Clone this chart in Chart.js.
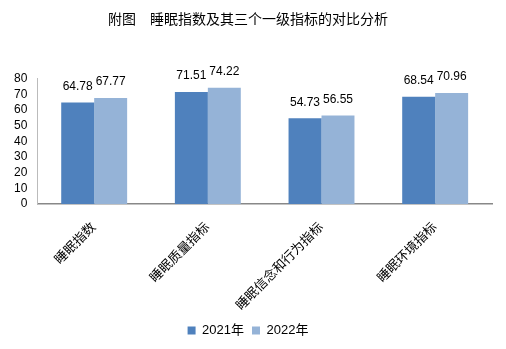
<!DOCTYPE html>
<html>
<head>
<meta charset="utf-8">
<script src="https://cdn.jsdelivr.net/npm/chart.js@4.4.0/dist/chart.umd.min.js"></script>
<style>
    html, body { margin: 0; padding: 0; background: #fff; }
    #wrap { width: 506px; height: 349px; }
</style>
</head>
<body>
<div id="wrap"><canvas id="grafico"></canvas></div>
<script>
const categorias = ['睡眠指数', '睡眠质量指标', '睡眠信念和行为指标', '睡眠环境指标'];
const valores2021 = [64.78, 71.51, 54.73, 68.54];
const valores2022 = [67.77, 74.22, 56.55, 70.96];
const series = ['2021年', '2022年'];
const ticksY = [0, 10, 20, 30, 40, 50, 60, 70, 80];

const fuente = "'DejaVu Sans', 'Noto Sans CJK SC', sans-serif";
const fuenteNum = "'Liberation Sans', 'Noto Sans CJK SC', sans-serif";

// etiquetas de valor encima de cada barra
const etiquetas = {
    id: 'etiquetas',
    afterDatasetsDraw(chart) {
        const ctx = chart.ctx;
        ctx.save();
        ctx.font = '12px ' + fuenteNum;
        ctx.fillStyle = '#000';
        ctx.textAlign = 'center';
        ctx.textBaseline = 'bottom';
        chart.data.datasets.forEach((ds, i) => {
            chart.getDatasetMeta(i).data.forEach((bar, j) => {
                ctx.fillText(ds.data[j].toFixed(2), bar.x, bar.y - 10);
            });
        });
        ctx.restore();
    }
};

new Chart(document.getElementById('grafico').getContext('2d'), {
    type: 'bar',
    data: {
        labels: categorias,
        datasets: [{
            label: series[0],
            data: valores2021,
            backgroundColor: '#4F81BD',
            categoryPercentage: 0.58,
            barPercentage: 1
        }, {
            label: series[1],
            data: valores2022,
            backgroundColor: '#95B3D7',
            categoryPercentage: 0.58,
            barPercentage: 1
        }]
    },
    options: {
        responsive: true,
        maintainAspectRatio: false,
        animation: false,
        layout: { padding: { left: 4, right: 14, top: 0, bottom: 2 } },
        plugins: {
            title: {
                display: true,
                text: '附图　睡眠指数及其三个一级指标的对比分析',
                color: '#000',
                font: { size: 14, family: fuente, weight: 'normal' },
                padding: { top: 12, bottom: 50 }
            },
            legend: {
                position: 'bottom',
                labels: {
                    boxWidth: 8,
                    boxHeight: 8,
                    color: '#000',
                    font: { size: 13, family: fuenteNum },
                    padding: 8
                }
            },
            tooltip: { enabled: false }
        },
        scales: {
            x: {
                grid: { display: false, drawTicks: false },
                border: { color: '#888', width: 1.5 },
                afterFit(axis) {
                    axis.height = 112;
                },
                ticks: {
                    maxRotation: 45,
                    minRotation: 45,
                    color: '#000',
                    padding: 16,
                    font: { size: 13, family: fuente }
                }
            },
            y: {
                min: ticksY[0],
                max: ticksY[ticksY.length - 1],
                afterBuildTicks(axis) {
                    axis.ticks = ticksY.map(v => ({ value: v }));
                },
                grid: { display: false, drawTicks: false },
                border: { color: '#bbb', width: 1 },
                ticks: {
                    autoSkip: false,
                    color: '#000',
                    padding: 10,
                    font: { size: 12, family: fuenteNum }
                }
            }
        }
    },
    plugins: [etiquetas]
});
</script>
</body>
</html>
